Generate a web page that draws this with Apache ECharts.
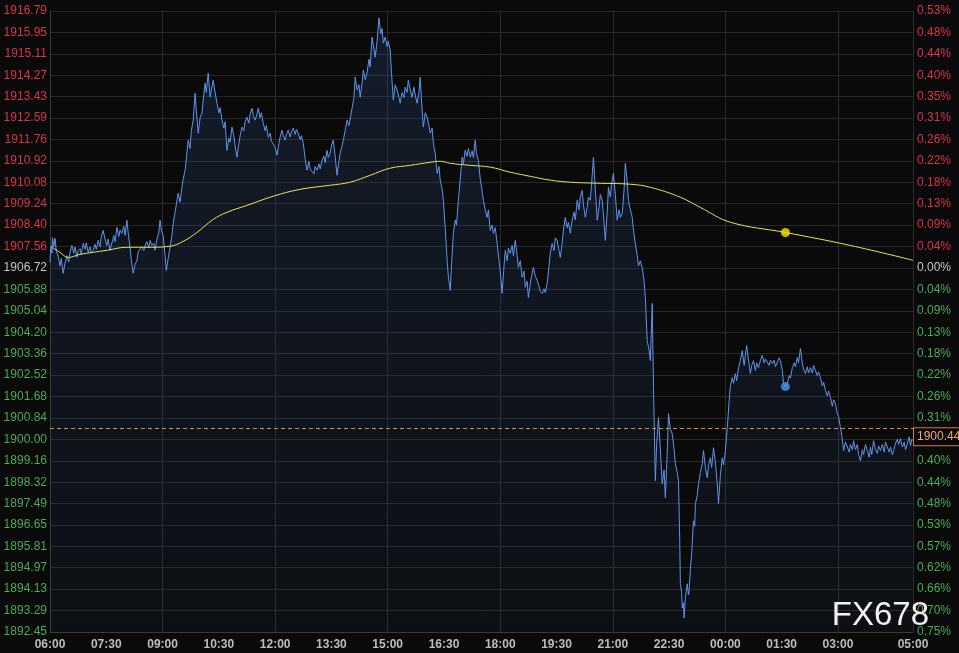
<!DOCTYPE html>
<html><head><meta charset="utf-8">
<script src="https://cdn.jsdelivr.net/npm/echarts@6/dist/echarts.min.js"></script>
<style>html,body{margin:0;padding:0;background:#0a0a0a;overflow:hidden}#c{width:959px;height:653px}</style>
</head><body><div id="c"></div>
<script>
// ---- data ----
const prevClose = 1906.72;
const lastPrice = 1900.44;
const leftTickLabels = ['1916.79','1915.95','1915.11','1914.27','1913.43','1912.59','1911.76','1910.92','1910.08','1909.24','1908.40','1907.56','1906.72','1905.88','1905.04','1904.20','1903.36','1902.52','1901.68','1900.84','1900.00','1899.16','1898.32','1897.49','1896.65','1895.81','1894.97','1894.13','1893.29','1892.45'];
const rightTickLabels = ['0.53%','0.48%','0.44%','0.40%','0.35%','0.31%','0.26%','0.22%','0.18%','0.13%','0.09%','0.04%','0.00%','0.04%','0.09%','0.13%','0.18%','0.22%','0.26%','0.31%','0.35%','0.40%','0.44%','0.48%','0.53%','0.57%','0.62%','0.66%','0.70%','0.75%'];
// time given as minutes after 06:00
const xTickMinutes = [0,90,180,270,360,450,540,630,720,810,900,990,1080,1170,1260,1380];
const xTickLabels = ['06:00','07:30','09:00','10:30','12:00','13:30','15:00','16:30','18:00','19:30','21:00','22:30','00:00','01:30','03:00','05:00'];
const xMax = 1380;
// [minute, price]
const pricePoints = [[0,1906.94],[1,1907.45],[2,1907.60],[3,1907.30],[4,1907.90],[6,1907.55],[8,1907.88],[10,1907.40],[13,1907.17],[16,1906.80],[18,1907.10],[21,1906.51],[24,1906.90],[27,1907.20],[30,1906.95],[32,1907.35],[35,1907.60],[38,1907.30],[40,1907.55],[43,1907.13],[45,1907.40],[48,1907.48],[50,1907.25],[53,1907.68],[56,1907.45],[58,1907.70],[61,1907.33],[64,1907.55],[66,1907.30],[69,1907.41],[72,1907.65],[74,1907.45],[77,1907.80],[80,1907.55],[82,1907.95],[85,1908.19],[88,1907.85],[91,1907.60],[93,1907.85],[96,1907.41],[99,1907.70],[102,1907.99],[104,1907.75],[107,1908.31],[110,1907.95],[112,1908.20],[115,1908.08],[118,1908.35],[120,1908.00],[123,1908.59],[125,1908.10],[128,1907.53],[130,1907.05],[133,1906.51],[136,1906.85],[139,1907.02],[141,1907.35],[144,1907.29],[147,1907.55],[150,1907.40],[152,1907.60],[155,1907.75],[158,1907.50],[160,1907.80],[163,1907.60],[166,1907.70],[168,1907.41],[171,1907.85],[174,1908.10],[176,1908.59],[178,1908.20],[181,1907.99],[184,1907.20],[186,1906.62],[189,1907.10],[192,1907.53],[195,1908.00],[197,1908.47],[200,1908.90],[202,1909.20],[205,1909.65],[208,1909.30],[211,1909.88],[213,1910.20],[216,1910.55],[218,1911.00],[221,1911.73],[224,1911.40],[226,1912.10],[229,1912.51],[232,1913.57],[234,1912.90],[237,1912.00],[240,1912.60],[243,1912.79],[245,1913.30],[248,1913.96],[250,1913.60],[253,1914.36],[256,1913.41],[258,1913.70],[261,1914.08],[264,1913.60],[267,1913.18],[270,1912.80],[272,1913.00],[275,1912.51],[278,1912.20],[280,1912.45],[283,1911.33],[286,1911.80],[288,1911.65],[291,1912.24],[294,1911.90],[296,1911.50],[299,1911.06],[302,1911.60],[304,1911.90],[307,1912.24],[310,1912.10],[312,1912.45],[315,1912.63],[318,1912.40],[320,1912.75],[323,1912.98],[325,1912.70],[328,1912.51],[331,1912.75],[333,1912.98],[336,1912.60],[338,1912.80],[341,1912.39],[344,1912.10],[346,1912.30],[349,1911.84],[352,1912.00],[354,1911.70],[357,1911.73],[360,1911.45],[363,1911.14],[366,1911.60],[368,1911.85],[371,1912.12],[373,1911.90],[376,1911.73],[378,1911.95],[381,1912.12],[384,1911.85],[386,1912.05],[389,1912.20],[392,1911.95],[394,1912.15],[397,1912.00],[400,1911.75],[402,1911.90],[405,1911.61],[408,1911.00],[411,1910.55],[414,1910.90],[416,1910.60],[419,1910.67],[422,1910.40],[424,1910.70],[427,1910.55],[430,1910.80],[432,1910.60],[435,1910.94],[438,1911.10],[440,1910.85],[443,1911.33],[445,1911.05],[448,1911.22],[450,1911.50],[453,1911.73],[456,1911.10],[459,1910.35],[462,1910.90],[464,1911.22],[467,1911.50],[469,1911.73],[472,1912.10],[475,1912.51],[478,1912.30],[481,1912.70],[483,1912.63],[486,1913.40],[488,1914.20],[491,1913.70],[494,1913.90],[496,1913.41],[499,1913.95],[501,1914.47],[504,1914.10],[507,1914.36],[510,1914.90],[512,1914.60],[515,1915.77],[518,1915.30],[520,1914.98],[523,1915.60],[526,1916.52],[529,1915.90],[531,1916.10],[533,1915.53],[536,1915.77],[539,1915.40],[541,1915.60],[544,1915.26],[546,1914.40],[549,1913.30],[552,1913.90],[555,1913.69],[558,1913.40],[560,1913.18],[563,1913.60],[566,1913.40],[568,1913.81],[571,1913.60],[573,1914.08],[576,1913.70],[579,1913.41],[582,1913.80],[584,1913.50],[587,1913.18],[590,1913.60],[592,1914.20],[594,1913.30],[597,1912.24],[600,1912.80],[603,1912.63],[606,1912.30],[608,1912.00],[611,1912.20],[613,1911.61],[616,1911.20],[619,1910.43],[622,1910.70],[624,1910.16],[627,1909.80],[629,1909.37],[632,1908.30],[635,1907.02],[637,1906.40],[640,1905.84],[642,1906.80],[645,1908.08],[648,1908.60],[650,1908.40],[653,1909.37],[656,1910.20],[659,1911.06],[661,1910.80],[664,1911.33],[667,1911.10],[669,1911.40],[672,1911.06],[675,1911.30],[677,1911.05],[680,1911.73],[682,1911.20],[685,1910.94],[688,1910.20],[690,1909.90],[693,1909.37],[696,1909.00],[699,1908.70],[701,1909.00],[704,1908.19],[707,1908.40],[709,1908.08],[712,1908.30],[715,1907.68],[718,1907.00],[720,1906.60],[723,1905.72],[726,1906.80],[728,1907.41],[731,1907.00],[733,1907.50],[736,1907.29],[739,1907.60],[741,1907.20],[744,1907.80],[747,1907.20],[749,1906.74],[752,1907.00],[755,1906.35],[758,1906.60],[760,1905.96],[763,1906.20],[765,1905.56],[768,1906.10],[770,1906.40],[773,1906.74],[776,1906.40],[779,1906.23],[782,1906.00],[784,1905.80],[787,1905.72],[790,1905.90],[792,1905.75],[795,1906.11],[798,1906.80],[800,1907.30],[803,1907.68],[806,1907.40],[808,1907.90],[811,1907.80],[814,1907.40],[816,1907.13],[819,1907.70],[821,1908.20],[824,1908.70],[827,1908.30],[829,1908.50],[832,1908.08],[835,1908.60],[838,1908.90],[840,1908.60],[843,1909.37],[846,1909.00],[848,1909.50],[851,1909.76],[853,1909.20],[856,1908.70],[859,1909.10],[861,1909.50],[864,1909.37],[866,1910.00],[869,1911.06],[872,1909.80],[875,1908.59],[878,1909.10],[880,1909.60],[883,1909.37],[886,1908.50],[888,1907.80],[891,1908.90],[893,1909.88],[896,1909.50],[898,1910.00],[901,1910.43],[904,1909.60],[907,1908.59],[910,1909.00],[912,1908.70],[915,1908.86],[918,1909.80],[920,1910.82],[923,1910.10],[925,1909.37],[928,1909.00],[931,1908.70],[933,1908.20],[936,1907.68],[939,1907.20],[941,1906.80],[944,1907.00],[947,1906.74],[950,1906.20],[952,1905.56],[955,1903.87],[958,1903.50],[960,1903.09],[963,1905.33],[965,1902.03],[968,1898.38],[970,1899.80],[973,1900.85],[976,1899.60],[979,1898.26],[982,1898.80],[984,1897.71],[987,1899.50],[989,1901.01],[992,1900.40],[995,1900.22],[998,1899.60],[1000,1899.05],[1003,1898.70],[1005,1898.38],[1007,1896.00],[1008,1894.34],[1010,1894.00],[1011,1893.39],[1013,1893.60],[1014,1893.00],[1016,1893.80],[1019,1894.34],[1021,1893.90],[1022,1894.06],[1024,1894.90],[1026,1895.51],[1029,1896.81],[1031,1896.60],[1032,1897.48],[1035,1897.80],[1037,1898.26],[1040,1898.70],[1043,1899.05],[1045,1899.56],[1048,1898.90],[1051,1898.50],[1053,1899.00],[1056,1899.28],[1058,1898.90],[1061,1899.67],[1064,1899.10],[1067,1898.26],[1069,1897.48],[1072,1898.60],[1075,1899.28],[1077,1899.00],[1080,1899.56],[1083,1900.46],[1086,1901.50],[1088,1902.10],[1091,1902.42],[1093,1902.20],[1096,1902.58],[1098,1902.30],[1101,1902.81],[1104,1903.10],[1107,1903.48],[1110,1902.90],[1112,1903.30],[1114,1903.68],[1117,1903.10],[1120,1902.58],[1122,1902.90],[1125,1903.09],[1128,1902.70],[1130,1903.00],[1133,1902.81],[1136,1903.10],[1139,1903.29],[1142,1903.00],[1144,1903.15],[1147,1903.09],[1150,1902.90],[1152,1903.10],[1155,1902.97],[1158,1903.10],[1160,1902.85],[1163,1902.89],[1166,1903.20],[1168,1903.09],[1171,1902.70],[1173,1902.19],[1176,1902.05],[1179,1902.19],[1182,1902.50],[1184,1902.40],[1187,1902.81],[1190,1903.00],[1192,1902.85],[1195,1903.21],[1197,1903.00],[1200,1903.56],[1203,1903.00],[1205,1902.75],[1208,1902.58],[1211,1902.85],[1213,1902.60],[1216,1902.81],[1219,1902.60],[1221,1902.90],[1224,1902.70],[1227,1902.50],[1229,1902.65],[1232,1902.42],[1235,1902.10],[1237,1902.25],[1240,1901.91],[1243,1901.70],[1245,1901.90],[1248,1901.64],[1251,1901.30],[1253,1901.55],[1256,1901.40],[1259,1901.00],[1261,1900.90],[1264,1900.46],[1267,1900.00],[1269,1899.56],[1272,1899.90],[1275,1899.83],[1278,1899.50],[1280,1899.80],[1283,1899.60],[1285,1899.95],[1288,1899.60],[1291,1899.80],[1293,1899.40],[1296,1899.16],[1299,1899.60],[1301,1899.40],[1304,1899.80],[1307,1899.56],[1310,1899.30],[1312,1899.70],[1314,1899.40],[1317,1899.95],[1320,1899.60],[1323,1899.45],[1325,1899.75],[1328,1899.56],[1331,1899.80],[1334,1899.50],[1336,1899.90],[1339,1899.83],[1342,1899.50],[1344,1899.70],[1347,1899.40],[1349,1899.56],[1352,1899.85],[1355,1900.00],[1357,1899.80],[1360,1900.03],[1363,1899.70],[1366,1899.90],[1368,1899.60],[1371,1899.83],[1374,1900.10],[1376,1899.75],[1378,1900.00],[1380,1899.95]];
const avgMinutes = [3,16,29,48,91,123,160,192,213,235,261,283,315,357,400,448,480,512,544,576,608,624,640,672,704,736,768,800,832,875,928,960,1008,1040,1088,1176,1280,1380];
const avgPrices = [1907.53,1907.33,1907.13,1907.25,1907.41,1907.53,1907.53,1907.57,1907.76,1908.11,1908.62,1908.90,1909.17,1909.53,1909.80,1909.96,1910.08,1910.35,1910.63,1910.74,1910.86,1910.90,1910.82,1910.74,1910.67,1910.47,1910.31,1910.16,1910.08,1910.04,1910.00,1909.88,1909.49,1909.09,1908.51,1908.11,1907.60,1907.02];
const markerMinute = 1176;
const avgMarkerPrice = 1908.11;
const priceMarkerPrice = 1902.07;
const watermark = 'FX678';

// ---- chart ----
const tickValues = leftTickLabels.map(Number);
const yMin = Math.min.apply(null, tickValues);
const yMax = Math.max.apply(null, tickValues);
function nearestIdx(v) {
  let best = 0, d = Infinity;
  tickValues.forEach((t, i) => { const dd = Math.abs(t - v); if (dd < d) { d = dd; best = i; } });
  return best;
}
function tickColor(v) {
  v = Number(v);
  if (Math.abs(v - prevClose) < 0.005) return '#c6c6c6';
  return v > prevClose ? '#d8344c' : '#4caa58';
}
const chart = echarts.init(document.getElementById('c'), null, {renderer: 'canvas'});
chart.setOption({
  animation: false,
  backgroundColor: '#0a0a0a',
  grid: {left: 50, right: 46, top: 11, bottom: 21, containLabel: false},
  xAxis: [{
    type: 'value', min: 0, max: xMax,
    axisLine: {show: true, lineStyle: {color: '#3a3a3a'}},
    axisTick: {show: false},
    splitLine: {show: false},
    axisLabel: {
      customValues: xTickMinutes,
      formatter: v => xTickLabels[xTickMinutes.indexOf(Number(v))] || '',
      color: '#bdbdbd', fontWeight: 'bold', fontSize: 12, fontFamily: 'Arial', margin: 7
    }
  }, {
    type: 'value', min: 0, max: xMax, interval: 180, position: 'bottom',
    axisLine: {show: false}, axisTick: {show: false}, axisLabel: {show: false},
    splitLine: {show: true, lineStyle: {color: '#2a2a2a', width: 1}}
  }],
  yAxis: [{
    type: 'value', min: yMin, max: yMax, position: 'left',
    axisLine: {show: true, lineStyle: {color: '#3a3a3a'}},
    axisTick: {show: false, customValues: tickValues},
    splitLine: {show: true, lineStyle: {color: '#272727', width: 1}},
    axisLabel: {
      customValues: tickValues,
      formatter: v => leftTickLabels[nearestIdx(Number(v))],
      color: tickColor, fontSize: 12, fontFamily: 'Arial', margin: 3
    }
  }, {
    type: 'value', min: yMin, max: yMax, position: 'right',
    axisLine: {show: true, lineStyle: {color: '#3a3a3a'}},
    axisTick: {show: false, customValues: tickValues},
    splitLine: {show: false},
    axisLabel: {
      customValues: tickValues,
      formatter: v => rightTickLabels[nearestIdx(Number(v))],
      color: tickColor, fontSize: 12, fontFamily: 'Arial', margin: 4
    }
  }],
  series: [{
    type: 'line', name: 'price', xAxisIndex: 0, yAxisIndex: 0,
    data: pricePoints,
    showSymbol: false, symbol: 'none',
    lineStyle: {color: '#5f93ea', width: 1},
    areaStyle: {
      origin: 'start',
      color: new echarts.graphic.LinearGradient(0, 0, 0, 1, [
        {offset: 0, color: 'rgba(50,85,145,0.34)'},
        {offset: 1, color: 'rgba(50,85,145,0.10)'}
      ])
    },
    z: 3,
    markLine: {
      silent: true, symbol: 'none',
      data: [{yAxis: lastPrice}],
      lineStyle: {color: '#d98a4a', type: [4, 3], width: 1},
      label: {
        position: 'end', distance: 1,
        formatter: '{b|' + lastPrice.toFixed(2) + '}',
        padding: [17, 0, 0, 0],
        rich: {b: {color: '#f0a878', fontSize: 12, fontFamily: 'Arial', backgroundColor: '#0a0a0a',
          borderColor: '#d87a40', borderWidth: 1, padding: [3, 4, 2, 3]}}
      }
    }
  }, {
    type: 'line', name: 'avg', xAxisIndex: 0, yAxisIndex: 0,
    data: avgMinutes.map((m, i) => [m, avgPrices[i]]),
    showSymbol: false, symbol: 'none', smooth: 0.4,
    lineStyle: {color: '#e4e45a', width: 1}, z: 4
  }, {
    type: 'scatter', xAxisIndex: 0, yAxisIndex: 0,
    data: [[markerMinute, avgMarkerPrice]], symbolSize: 9,
    itemStyle: {color: '#f6e600'}, z: 5
  }, {
    type: 'scatter', xAxisIndex: 0, yAxisIndex: 0,
    data: [[markerMinute, priceMarkerPrice]], symbolSize: 9,
    itemStyle: {color: '#4d93f0'}, z: 5
  }],
  graphic: [{
    type: 'text', right: 30, top: 599, z: 100,
    style: {text: watermark, fill: '#f2f2f2', font: 'normal 33px Arial'}
  }]
});
</script></body></html>
